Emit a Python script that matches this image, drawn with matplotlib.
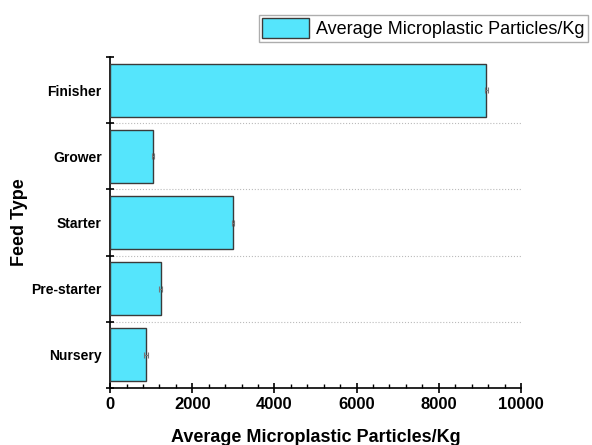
import numpy as np
import matplotlib
matplotlib.use("Agg")
import matplotlib.pyplot as plt
from matplotlib.ticker import MultipleLocator, FixedLocator

plt.rcParams['font.family'] = ['Liberation Sans', 'DejaVu Sans']

# --- Data ---
feed_types = ["Nursery", "Pre-starter", "Starter", "Grower", "Finisher"]
avg_particles = [880, 1230, 2990, 1050, 9160]
particle_err = [50, 40, 20, 30, 30]

bar_color = "#55E5FC"

fig = plt.figure(figsize=(5.92, 4.45), dpi=100)
ax = fig.add_axes([0.186, 0.128, 0.694, 0.744])

y = np.arange(len(feed_types))
ax.barh(y, avg_particles, height=0.8, color=bar_color, edgecolor="#3a3a3a",
        linewidth=1.0, xerr=particle_err, ecolor="#777777",
        error_kw=dict(elinewidth=0.8, capsize=2, capthick=0.8),
        label="Average Microplastic Particles/Kg", zorder=3)

ax.set_xlim(0, 10000)
ax.set_ylim(-0.5, len(feed_types) - 0.5)

# --- Ticks ---
ax.xaxis.set_major_locator(MultipleLocator(2000))
ax.xaxis.set_minor_locator(MultipleLocator(400))
ax.set_yticks(y)
ax.set_yticklabels(feed_types)
ax.yaxis.set_minor_locator(FixedLocator(np.arange(-0.5, len(feed_types), 1.0)))

ax.tick_params(axis="x", which="major", direction="inout", length=7, width=1.2,
               labelsize=12, pad=3)
ax.tick_params(axis="x", which="minor", direction="in", length=3, width=1.0)
ax.tick_params(axis="y", which="major", length=0, labelsize=10, pad=6)
ax.tick_params(axis="y", which="minor", direction="inout", length=6, width=1.2)
for lbl in ax.get_xticklabels() + ax.get_yticklabels():
    lbl.set_fontweight("bold")

# dotted separators between feed types
for b in np.arange(0.5, len(feed_types) - 1, 1.0):
    ax.axhline(b, color="#bbbbbb", linestyle=":", linewidth=0.8, zorder=1)

ax.spines["top"].set_visible(False)
ax.spines["right"].set_visible(False)
ax.spines["left"].set_linewidth(1.2)
ax.spines["bottom"].set_linewidth(1.2)

ax.set_xlabel("Average Microplastic Particles/Kg", fontsize=13, fontweight="bold",
              labelpad=12)
ax.set_ylabel("Feed Type", fontsize=13, fontweight="bold")
ax.yaxis.set_label_coords(-0.200, 0.5)

leg = fig.legend(loc="upper right", bbox_to_anchor=(1.0, 0.975), fontsize=13,
                 frameon=True, fancybox=False, edgecolor="#999999",
                 handlelength=2.6, handleheight=1.3, borderpad=0.2,
                 handletextpad=0.4, borderaxespad=0.2)
leg.get_frame().set_linewidth(1.0)

fig.savefig("out.png", dpi=100)
